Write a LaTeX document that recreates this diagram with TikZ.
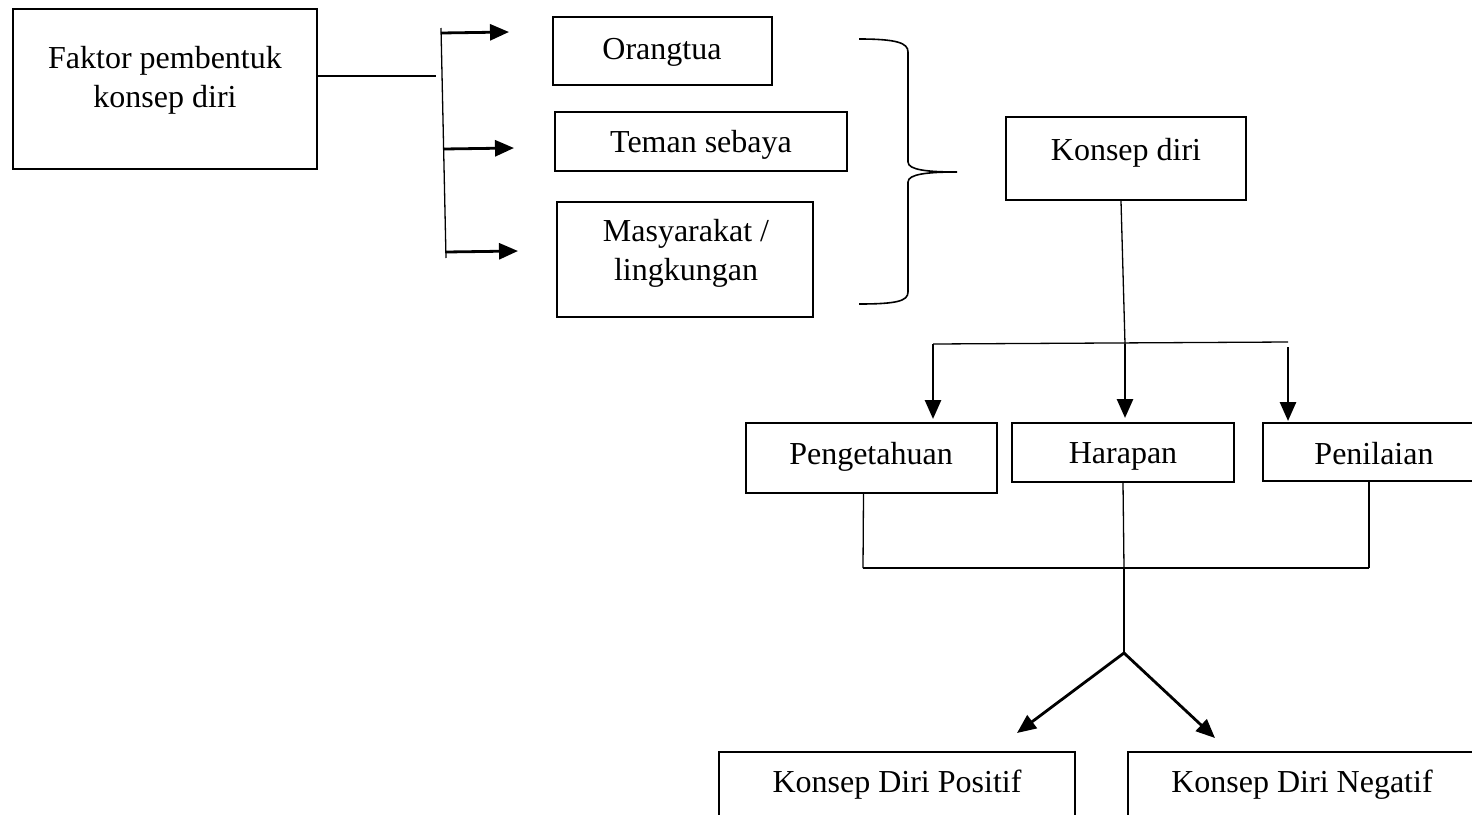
\documentclass[tikz,border=0pt]{standalone}
\usepackage{fontspec}
\setmainfont{Liberation Serif}
\usetikzlibrary{arrows.meta}

\begin{document}
\begin{tikzpicture}[x=1pt,y=-1pt,
  box/.style={draw, line width=2.3pt, inner sep=0pt},
  lbl/.style={font=\fontsize{32}{39}\selectfont, align=center, inner sep=0pt},
  thinline/.style={line width=1.3pt},
  arr/.style={line width=2.8pt, -{Triangle[length=19pt,width=16pt]}},
]
\clip (0,0) rectangle (1472,814);

% ---------- boxes ----------
\node[box, minimum width=304pt, minimum height=160pt] (faktor) at (165,89) {};
\node[lbl] (faktorT) at (165,80) {Faktor pembentuk\\konsep diri};

\node[box, minimum width=219pt, minimum height=68pt] (orang) at (662.5,51) {};
\node[lbl, anchor=base] (orangT) at (662,59) {Orangtua};

\node[box, minimum width=292pt, minimum height=59pt] (teman) at (701,141.5) {};
\node[lbl, anchor=base] (temanT) at (701,152) {Teman sebaya};

\node[box, minimum width=256pt, minimum height=115pt] (masy) at (685,259.5) {};
\node[lbl] (masyT) at (686,253.5) {Masyarakat /\\lingkungan};

\node[box, minimum width=240pt, minimum height=83pt] (konsep) at (1126,158.5) {};
\node[lbl, anchor=base] (konsepT) at (1126,160) {Konsep diri};

\node[box, minimum width=251pt, minimum height=70pt] (peng) at (871.5,458) {};
\node[lbl, anchor=base] (pengT) at (871,464) {Pengetahuan};

\node[box, minimum width=222pt, minimum height=59pt] (harap) at (1123,452.5) {};
\node[lbl, anchor=base] (harapT) at (1123,463) {Harapan};

\node[box, minimum width=222pt, minimum height=58pt] (nilai) at (1374,452) {};
\node[lbl, anchor=base] (nilaiT) at (1374,464) {Penilaian};

\node[box, minimum width=356pt, minimum height=90pt] (pos) at (897,797) {};
\node[lbl, anchor=base] (posT) at (897,792) {Konsep Diri Positif};

\node[box, minimum width=348pt, minimum height=90pt] (neg) at (1302,797) {};
\node[lbl, anchor=base] (negT) at (1302,792) {Konsep Diri Negatif};

% ---------- factors: feeder line, bar and arrows ----------
\coordinate (fj) at (436,76);
\coordinate (barTop) at (441,28);
\coordinate (barBot) at (446,258);
\draw[thinline] (faktor.east |- fj) -- (fj);
\draw[thinline] (barTop) -- (barBot);

\coordinate (a1s) at (441,33);   \coordinate (a1e) at (509,32);
\coordinate (a2s) at (443.5,149); \coordinate (a2e) at (514,148);
\coordinate (a3s) at (446,252);  \coordinate (a3e) at (518,251);
\draw[arr] (a1s) -- (a1e);
\draw[arr] (a2s) -- (a2e);
\draw[arr] (a3s) -- (a3e);

% ---------- curly brace grouping the three factors ----------
\draw[line width=1.6pt]
  (859,39) .. controls (897,39) and (908,43) .. (908,52)
  -- (908,162) .. controls (908,170) and (928,172) .. (957,172)
  .. controls (928,172) and (908,174) .. (908,182)
  -- (908,292) .. controls (908,301) and (897,304) .. (859,304);

% ---------- Konsep diri to its three components ----------
\coordinate (hj) at (1125,344);
\coordinate (hl) at (933,344);
\coordinate (hr) at (1288,342);
\draw[thinline] (konsep.south) ++(-5,0) -- (hj);
\draw[thinline] (hl) -- (hr);

\coordinate (t1) at (933,419);
\coordinate (t2) at (1125,418);
\coordinate (r3) at (1288,347);
\coordinate (t3) at (1288,421);
\draw[arr] (hl) -- (t1);
\draw[arr] (hj) -- (t2);
\draw[arr] (r3) -- (t3);

% ---------- components merge ----------
\coordinate (bl) at (863,568);
\coordinate (bm) at (1124,568);
\coordinate (br) at (1369,568);
\draw[thinline] (peng.south) ++(-8,0) -- (bl);
\draw[thinline] (harap.south) -- (bm);
\draw[thinline] (nilai.south) ++(-5,0) -- (br);
\draw[thinline] (bl) -- (br);

\coordinate (apex) at (1124,653);
\coordinate (tp) at (1017,733);
\coordinate (tn) at (1215,738);
\draw[thinline] (bm) -- (apex);
\draw[arr] (apex) -- (tp);
\draw[arr] (apex) -- (tn);
\end{tikzpicture}
\end{document}
